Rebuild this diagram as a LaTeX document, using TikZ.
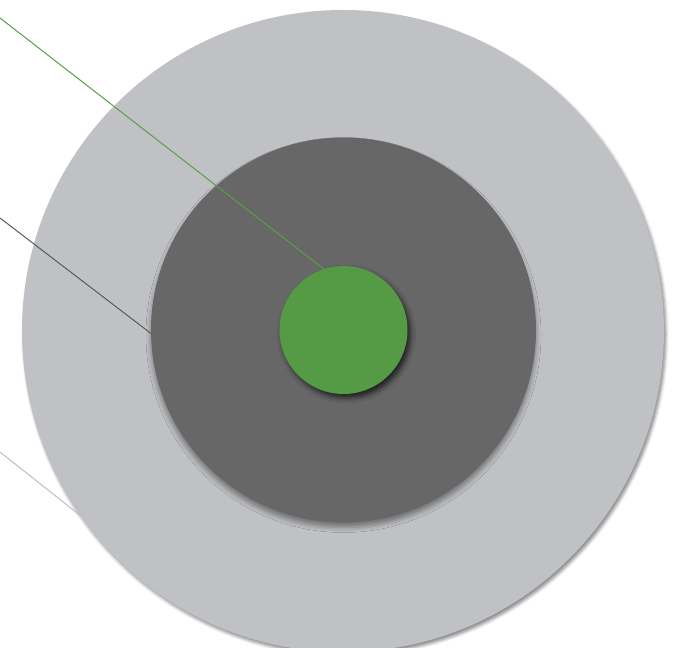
\documentclass[tikz,border=0pt]{standalone}
\usepackage{tikz}
\usetikzlibrary{shadows.blur}
\usepackage{xcolor}
\definecolor{jacket}{HTML}{C0C1C4}
\definecolor{cladding}{HTML}{676767}
\definecolor{corefill}{HTML}{559B46}
\definecolor{jacketline}{HTML}{BDBDBD}
\definecolor{claddingline}{HTML}{5A5A5A}
\definecolor{coreline}{HTML}{5A9E4A}
\tikzset{
    layer/.style={
        circle,
        inner sep=0pt,
        draw=none
    },
    leader/.style={
        line width=1bp
    }
}

\begin{document}
\begin{tikzpicture}[x=1bp,y=-1bp]

    \useasboundingbox (0,0) rectangle (674,648);

    % Gaine
    \node[
        layer,
        fill=jacket,
        minimum size=642bp,
        blur shadow={shadow xshift=2bp,shadow yshift=-3bp,
            shadow blur radius=3bp,shadow opacity=45}
    ]
        (jacket) at (343,331) {};

    % Gaine optique
    \node[
        layer,
        fill=cladding,
        minimum size=385bp,
        blur shadow={shadow xshift=0bp,shadow yshift=-5bp,
            shadow blur radius=5bp,shadow opacity=40}
    ]
        (cladding) at (343.5,330) {};

    % Coeur
    \node[
        layer,
        fill=corefill,
        minimum size=128bp,
        blur shadow={shadow xshift=3bp,shadow yshift=-4bp,
            shadow blur radius=5bp,shadow opacity=70}
    ]
        (core) at (343.5,330) {};

    % Repères
    \coordinate (tipcore) at (0,18);
    \coordinate (tipcladding) at (0,218);
    \coordinate (tipjacket) at (0,452);

    \draw[leader,coreline]
        (tipcore) -- (core.108.6);

    \draw[leader,claddingline]
        (tipcladding) -- (cladding.181.5);

    \draw[leader,jacketline]
        (tipjacket) -- (jacket.215);

\end{tikzpicture}
\end{document}
